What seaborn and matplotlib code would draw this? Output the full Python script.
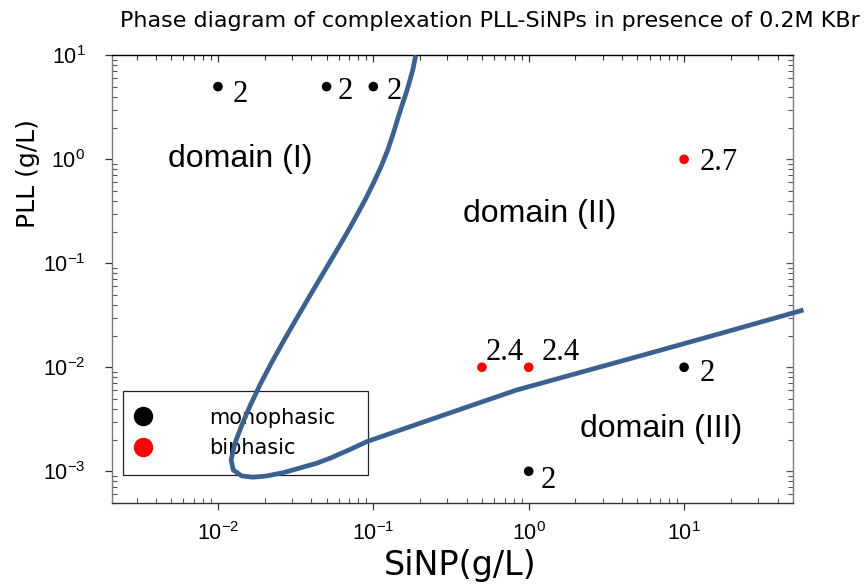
import numpy as np
import pandas as pd
import matplotlib
matplotlib.use("Agg")
import matplotlib.pyplot as plt
import seaborn as sns
from matplotlib.lines import Line2D

# Measured samples: SiNP and PLL concentrations (g/L), phase and charge ratio
sinp = [0.01, 0.05, 0.1, 10, 1, 0.5, 1, 10]
pll = [5, 5, 5, 0.01, 0.001, 0.01, 0.01, 1]
phase = ["monophasic"] * 5 + ["biphasic"] * 3
ratio = ["2", "2", "2", "2", "2", "2.4", "2.4", "2.7"]

# Phase boundary traced through the (SiNP, PLL) plane
boundary_sinp = [0.1875, 0.1794, 0.1698, 0.1624, 0.1546, 0.1449, 0.1345, 0.1238,
                 0.1121, 0.1, 0.08844, 0.07737, 0.06743, 0.05836, 0.04937,
                 0.0399, 0.03256, 0.02669, 0.02203, 0.01886, 0.016, 0.01411,
                 0.01287, 0.01216, 0.01254, 0.01421, 0.01688, 0.02059, 0.02633,
                 0.0432, 0.05262, 0.07079, 0.09069, 0.1723, 0.3797, 0.8384,
                 2.143, 5.478, 18.86, 58.72]
boundary_pll = [10, 7.224, 5.381, 4.311, 3.455, 2.568, 1.778, 1.229,
                0.8488, 0.5878, 0.4062, 0.2806, 0.1943, 0.1342, 0.08814,
                0.05147, 0.03065, 0.0183, 0.01093, 0.00702, 0.004179, 0.002684,
                0.001859, 0.001285, 0.001029, 0.000901, 0.000876, 0.000901, 0.000969,
                0.001194, 0.001334, 0.00162, 0.001925, 0.002684, 0.004034, 0.006049,
                0.008913, 0.01313, 0.022, 0.03556]

domains = ["domain (I)", "domain (II)", "domain (III)"]

# label offsets in pixels (dx, dy) from each marker
label_offsets = [(15, -15), (11, -12), (13, -12), (16, -14), (12, -17),
                 (4, 7), (13, 7), (16, -11)]

sns.set_theme(style="ticks")
plt.rcParams["font.family"] = ["Liberation Sans", "DejaVu Sans"]
plt.rcParams["mathtext.default"] = "regular"
for key in ["text.color", "axes.labelcolor", "xtick.labelcolor", "ytick.labelcolor"]:
    plt.rcParams[key] = "black"

samples = pd.DataFrame({"sinp": sinp, "pll": pll, "phase": phase, "ratio": ratio})
boundary = pd.DataFrame({"sinp": boundary_sinp, "pll": boundary_pll})

fig = plt.figure(figsize=(8.65, 5.84), dpi=100)
ax = fig.add_axes([0.1291, 0.1387, 0.7873, 0.7666])
ax.set_xscale("log")
ax.set_yscale("log")

line_color = "#3b6190"
sns.lineplot(data=boundary, x="sinp", y="pll", sort=False, estimator=None,
             color=line_color, lw=3.4, ax=ax, zorder=6)
curve = ax.lines[-1]
curve.set_clip_on(False)
curve.set_solid_capstyle("butt")
curve.set_solid_joinstyle("round")

palette = {"monophasic": "black", "biphasic": "#ff0000"}
sns.scatterplot(data=samples, x="sinp", y="pll", hue="phase", palette=palette,
                s=48, edgecolor="none", legend=False, ax=ax, zorder=7)

for (x, y, r), (dx, dy) in zip(zip(sinp, pll, ratio), label_offsets):
    ax.annotate(r, (x, y), xytext=(dx, dy), textcoords="offset pixels",
                ha="left", va="baseline", fontsize=22,
                family=["Liberation Serif", "DejaVu Serif"], color="black", zorder=8)

ax.set_xlim(2.07e-3, 50)
ax.set_ylim(4.95e-4, 10)

# domain labels
domain_pos = [(0.0827, 0.7505), (0.5159, 0.627), (0.6877, 0.1474)]
for name, (px, py) in zip(domains, domain_pos):
    ax.text(px, py, name, transform=ax.transAxes, fontsize=23, ha="left",
            va="baseline", color="black", zorder=5)

# axis styling
spine_col = "#7a7a7a"
for side in ["left", "right"]:
    ax.spines[side].set_color(spine_col)
ax.spines["bottom"].set_color("#333333")
ax.spines["top"].set_color("black")
for s in ax.spines.values():
    s.set_linewidth(1.0)

ax.tick_params(which="major", direction="out", length=5, width=0.9,
               labelsize=15.5, colors="#333333", labelcolor="black")
ax.tick_params(which="minor", direction="in", length=3.6, width=0.8, colors="#555555")
ax.tick_params(axis="x", which="major", pad=9)
ax.tick_params(axis="y", which="major", pad=14)

top = ax.secondary_xaxis("top")
top.tick_params(which="both", direction="in", labeltop=False, colors="#333333")
top.tick_params(which="major", length=5, width=0.9)
top.tick_params(which="minor", length=3.6, width=0.8)
right = ax.secondary_yaxis("right")
right.tick_params(which="both", direction="in", labelright=False, colors="#555555")
right.tick_params(which="major", length=5, width=0.9)
right.tick_params(which="minor", length=3.6, width=0.8)
for sec in (top, right):
    for s in sec.spines.values():
        s.set_visible(False)

ax.set_xlabel("SiNP(g/L)", fontsize=24, family="DejaVu Sans")
ax.set_ylabel("PLL (g/L)", fontsize=18, family="DejaVu Sans")
ax.xaxis.set_label_coords(0.511, -0.103)
ax.yaxis.set_label_coords(-0.105, 0.735)

handles = [Line2D([], [], ls="none", marker="o", ms=13, color="black"),
           Line2D([], [], ls="none", marker="o", ms=13, color="#ff0000")]
leg = ax.legend(handles, ["monophasic", "biphasic"], loc="lower left",
                bbox_to_anchor=(0.016, 0.063, 0.36, 0.186), mode="expand",
                prop={"family": "DejaVu Sans", "size": 15},
                frameon=True, fancybox=False, borderpad=0.8,
                handlelength=0.4, handletextpad=2.95, labelspacing=0.5,
                borderaxespad=0)
leg.get_frame().set_edgecolor("#222222")
leg.get_frame().set_linewidth(0.9)
leg.get_frame().set_facecolor("white")
leg.get_frame().set_alpha(1)
leg.set_zorder(2)

fig.text(120 / 865, 1 - 27 / 584, "Phase diagram of complexation PLL-SiNPs in presence of 0.2M KBr",
         fontsize=16, ha="left", va="baseline", family="DejaVu Sans", color="black")

fig.savefig("out.png", dpi=100, facecolor="white")
